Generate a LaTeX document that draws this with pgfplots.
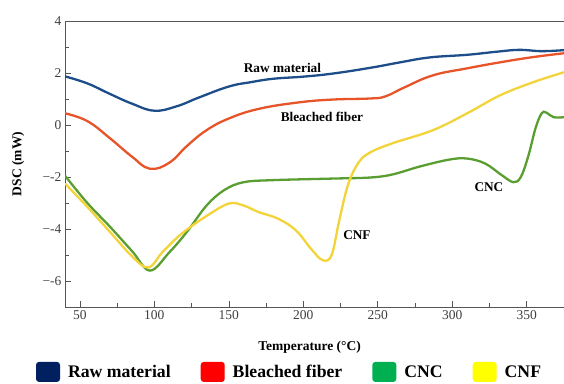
\documentclass[border=0pt]{standalone}
\usepackage{pgfplots}
\pgfplotsset{compat=1.18}
\usepackage{fontspec}
\setmainfont{Liberation Serif}
\definecolor{cRaw}{HTML}{1D4E89}
\definecolor{cBle}{HTML}{E8542A}
\definecolor{cCNC}{HTML}{5A9E32}
\definecolor{cCNF}{HTML}{F2D43A}
\definecolor{lRaw}{HTML}{002060}
\definecolor{lBle}{HTML}{FF0000}
\definecolor{lCNC}{HTML}{00B050}
\definecolor{lCNF}{HTML}{FFFF00}
\definecolor{axgray}{HTML}{555555}
\begin{document}
\begin{tikzpicture}
\useasboundingbox (0,0) rectangle (564pt,383pt);
\begin{axis}[
  at={(65pt,76pt)}, anchor=south west,
  scale only axis, width=499pt, height=286pt,
  xmin=40, xmax=375, ymin=-7, ymax=4,
  axis x line=box, axis y line=left,
  axis line style={-, draw=axgray, line width=0.8pt},
  xtick pos=bottom, ytick pos=left,
  xtick={50,100,...,350}, ytick={-6,-4,...,4},
  minor xtick={75,125,...,375}, minor ytick={-7,-5,...,3},
  tick align=inside,
  major tick length=6pt, minor tick length=4pt,
  tick style={draw=axgray, line width=0.7pt},
  /pgf/number format/assume math mode=true,
  ticklabel style={font=\fontsize{13.5}{14}\selectfont, text=black!75},
  yticklabel={\ifdim\tick pt<0pt −\pgfmathprintnumber[print sign=false]{\tick}\else\pgfmathprintnumber{\tick}\fi},
  xlabel={Temperature (°C)},
  ylabel={DSC (mW)},
  label style={font=\bfseries\fontsize{13.5}{14}\selectfont},
  xlabel style={at={(axis description cs:0.49,-0.14)}, anchor=center},
  ylabel style={at={(axis description cs:-0.094,0.5)}, anchor=center},
  legend style={draw=none, fill=none, at={(axis description cs:0.45,-0.227)}, anchor=center,
    legend columns=4, font=\bfseries\fontsize{17.7}{18}\selectfont,
    /tikz/every odd column/.append style={column sep=6pt},
    /tikz/every even column/.append style={column sep=28pt},
    legend cell align=left},
  legsq/.style={legend image code/.code={\fill[##1,draw=none,rounded corners=3pt] (0pt,-10pt) rectangle (24pt,10pt);}},
]
\addplot[cRaw, line width=2.3pt, smooth, tension=0.7, forget plot] coordinates {
(40,1.87)(55,1.6)(70,1.2)(85,0.82)(100,0.55)(115,0.72)(130,1.06)(150,1.48)(165,1.65)(180,1.78)(200,1.86)(220,1.98)(245,2.2)(265,2.41)(285,2.6)(310,2.7)(330,2.82)(345,2.89)(360,2.84)(375,2.88)};
\addplot[cBle, line width=2.3pt, smooth, tension=0.7, forget plot] coordinates {
(40,0.45)(55,0.15)(70,-0.5)(85,-1.22)(97,-1.68)(110,-1.45)(122,-0.8)(135,-0.2)(150,0.25)(170,0.62)(197,0.87)(220,0.98)(245,1.02)(255,1.1)(268,1.45)(287,1.91)(310,2.18)(332,2.41)(354,2.61)(375,2.76)};
\addplot[cCNC, line width=2.3pt, smooth, tension=0.6, forget plot] coordinates {
(40,-1.95)(55,-3.0)(70,-3.9)(85,-4.85)(97,-5.6)(110,-4.9)(122,-4.1)(135,-3.1)(147,-2.5)(160,-2.2)(180,-2.12)(220,-2.06)(245,-2.02)(260,-1.9)(278,-1.6)(298,-1.33)(310,-1.29)(322,-1.48)(333,-1.92)(341,-2.2)(346,-2.0)(351,-1.2)(356,-0.1)(360,0.45)(363,0.48)(368,0.3)(375,0.3)};
\addplot[cCNF, line width=2.3pt, smooth, tension=0.6, forget plot] coordinates {
(40,-2.25)(55,-3.15)(70,-4.1)(85,-5.05)(96,-5.48)(106,-4.85)(119,-4.15)(135,-3.5)(150,-3.02)(160,-3.1)(170,-3.35)(183,-3.6)(195,-4.05)(205,-4.75)(213,-5.2)(219,-5.0)(224,-3.7)(230,-2.3)(237,-1.45)(245,-1.05)(260,-0.7)(287,-0.2)(310,0.45)(332,1.14)(354,1.64)(375,2.03)};
\addlegendimage{legsq, fill=lRaw}\addlegendentry{Raw material}
\addlegendimage{legsq, fill=lBle}\addlegendentry{Bleached fiber}
\addlegendimage{legsq, fill=lCNC}\addlegendentry{CNC}
\addlegendimage{legsq, fill=lCNF}\addlegendentry{CNF}
\node[font=\bfseries\fontsize{13.3}{14}\selectfont] at (axis cs:186,2.2) {Raw material};
\node[font=\bfseries\fontsize{13.3}{14}\selectfont] at (axis cs:212.5,0.33) {Bleached fiber};
\node[font=\bfseries\fontsize{13.3}{14}\selectfont] at (axis cs:236,-4.24) {CNF};
\node[font=\bfseries\fontsize{13.3}{14}\selectfont] at (axis cs:324.6,-2.4) {CNC};
\end{axis}
\end{tikzpicture}
\end{document}
